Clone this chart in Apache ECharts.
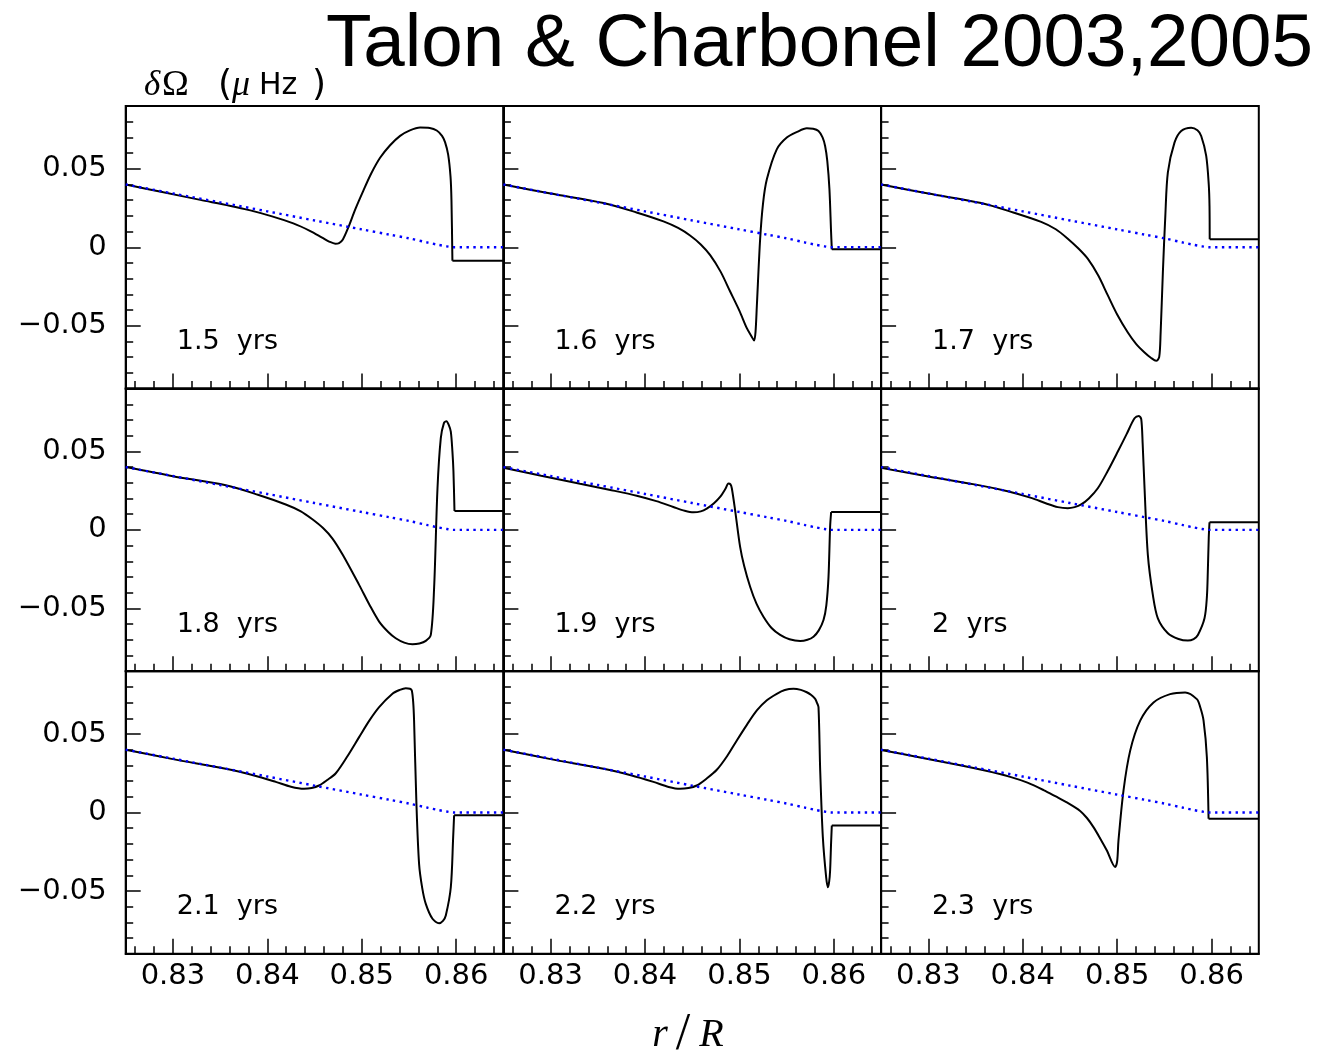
<!DOCTYPE html>
<html>
<head>
<meta charset="utf-8">
<script src="https://cdn.jsdelivr.net/npm/echarts@6/dist/echarts.min.js"></script>
<style>html,body{margin:0;padding:0;background:#fff}#c{width:1331px;height:1056px}</style>
</head>
<body>
<div id="c"></div>
<script>
// ---------- data ----------
const titleText = 'Talon & Charbonel 2003,2005';
const panelLabels = ['1.5  yrs','1.6  yrs','1.7  yrs','1.8  yrs','1.9  yrs','2  yrs','2.1  yrs','2.2  yrs','2.3  yrs'];
const xMajorTicks = [0.83, 0.84, 0.85, 0.86];
const yMajorTicks = [-0.05, 0, 0.05];
const xRange = [0.825, 0.865];
const yRange = [-0.09, 0.09];

const yrs15 = [[0.825,0.0400],[0.829,0.0350],[0.8329,0.0302],[0.8360,0.0265],[0.8382,0.0235],[0.8405,0.0197],[0.84275,0.0152],[0.8445,0.0105],[0.8458,0.0062],[0.8466,0.0035],[0.8472,0.0023],[0.8476,0.0027],[0.8480,0.0050],[0.84858,0.0127],[0.8493,0.0240],[0.85017,0.0361],[0.8510,0.0470],[0.85194,0.0570],[0.8530,0.0650],[0.85406,0.0710],[0.8551,0.0745],[0.85618,0.0763],[0.8572,0.0760],[0.85794,0.0744],[0.8585,0.0710],[0.85882,0.0670],[0.85915,0.0590],[0.8594,0.0450],[0.8595,0.0300],[0.8596,-0.0085],[0.865,-0.0085]];
const yrs16 = [[0.825,0.0400],[0.830,0.0342],[0.8356,0.0282],[0.8391,0.0222],[0.84195,0.0165],[0.8435,0.0123],[0.84477,0.0075],[0.8459,0.0018],[0.8469,-0.0050],[0.8480,-0.0155],[0.849,-0.0280],[0.8500,-0.0405],[0.85078,-0.0515],[0.8513,-0.0570],[0.85155,-0.0594],[0.8517,-0.0540],[0.85184,-0.0374],[0.85219,0.0053],[0.8525,0.0282],[0.8529,0.0433],[0.85395,0.0624],[0.85501,0.0699],[0.8561,0.0735],[0.85713,0.0758],[0.8578,0.0755],[0.85837,0.0741],[0.8588,0.0700],[0.85907,0.0645],[0.8593,0.0550],[0.85953,0.0369],[0.8597,0.0100],[0.85978,-0.0013],[0.865,-0.0013]];
const yrs17 = [[0.825,0.0400],[0.830,0.0342],[0.8356,0.0282],[0.8390,0.0222],[0.84195,0.0162],[0.8435,0.0115],[0.84477,0.0055],[0.8459,-0.0008],[0.8469,-0.0074],[0.8480,-0.0180],[0.849,-0.0305],[0.8500,-0.0428],[0.85113,-0.0543],[0.8520,-0.0615],[0.8529,-0.0670],[0.8536,-0.0705],[0.85413,-0.0723],[0.85445,-0.0700],[0.8546,-0.0550],[0.85484,-0.0160],[0.8551,0.0200],[0.85537,0.0477],[0.85607,0.0667],[0.85678,0.0741],[0.85784,0.0762],[0.8585,0.0745],[0.8589,0.0709],[0.85943,0.0582],[0.8597,0.0400],[0.85978,0.0263],[0.8598,0.0052],[0.865,0.0052]];
const yrs18 = [[0.825,0.0400],[0.830,0.0342],[0.8356,0.0284],[0.8390,0.0224],[0.84195,0.0162],[0.8435,0.0120],[0.84477,0.0068],[0.8459,0.0012],[0.8469,-0.0055],[0.8480,-0.0160],[0.84972,-0.0350],[0.8508,-0.0475],[0.85184,-0.0584],[0.8528,-0.0650],[0.8536,-0.0690],[0.8545,-0.0718],[0.85537,-0.0728],[0.8561,-0.0723],[0.85678,-0.0707],[0.85731,-0.0669],[0.85766,-0.0372],[0.85802,0.0265],[0.85837,0.0584],[0.8587,0.0680],[0.85897,0.0692],[0.8592,0.0670],[0.85943,0.0626],[0.8596,0.0500],[0.85971,0.0372],[0.85982,0.0120],[0.865,0.0120]];
const yrs19 = [[0.825,0.0396],[0.829,0.0345],[0.83312,0.0294],[0.8362,0.0256],[0.83912,0.0218],[0.8412,0.0183],[0.843,0.0146],[0.8442,0.0122],[0.84513,0.0112],[0.8459,0.0118],[0.84654,0.0136],[0.8473,0.0170],[0.84795,0.0210],[0.8485,0.0260],[0.84883,0.0295],[0.84905,0.0290],[0.84919,0.0265],[0.84954,0.0125],[0.85007,-0.0108],[0.8505,-0.0230],[0.85113,-0.0362],[0.8518,-0.0470],[0.85254,-0.0553],[0.8534,-0.0625],[0.85431,-0.0669],[0.8553,-0.0697],[0.85643,-0.0708],[0.8572,-0.0700],[0.85784,-0.0680],[0.8584,-0.0640],[0.8589,-0.0574],[0.8592,-0.0480],[0.85943,-0.0299],[0.8596,0.0019],[0.85971,0.0114],[0.865,0.0114]];
const yrs20 = [[0.825,0.0395],[0.830,0.0340],[0.8356,0.0282],[0.8385,0.0245],[0.84089,0.0204],[0.8425,0.0168],[0.84371,0.0145],[0.84477,0.0138],[0.8455,0.0145],[0.84619,0.0162],[0.8470,0.0200],[0.84795,0.0265],[0.8490,0.0375],[0.85007,0.0499],[0.8510,0.0610],[0.85184,0.0711],[0.8523,0.0726],[0.85255,0.0705],[0.8527,0.0550],[0.8529,0.0265],[0.85325,-0.0159],[0.85378,-0.0414],[0.85431,-0.0563],[0.85537,-0.0658],[0.8565,-0.0695],[0.85749,-0.0705],[0.8581,-0.0695],[0.85855,-0.0669],[0.85925,-0.0563],[0.8595,-0.0430],[0.8596,-0.0268],[0.8597,-0.0050],[0.85978,0.0049],[0.865,0.0049]];
const yrs21 = [[0.825,0.0400],[0.830,0.0340],[0.8356,0.0278],[0.8385,0.0237],[0.84089,0.0195],[0.8425,0.0164],[0.84389,0.0151],[0.8447,0.0156],[0.84548,0.0172],[0.8463,0.0205],[0.84725,0.0250],[0.8485,0.0360],[0.84972,0.0480],[0.8508,0.0585],[0.85184,0.0671],[0.85325,0.0756],[0.8540,0.0780],[0.85466,0.0792],[0.8551,0.0788],[0.8553,0.0777],[0.85545,0.0700],[0.85554,0.0586],[0.85579,0.0055],[0.85607,-0.0327],[0.8564,-0.0480],[0.85678,-0.0582],[0.85749,-0.0677],[0.85819,-0.0705],[0.8586,-0.0690],[0.8589,-0.0656],[0.85943,-0.0476],[0.85968,-0.0157],[0.85978,-0.0017],[0.865,-0.0017]];
const yrs22 = [[0.825,0.0400],[0.830,0.0340],[0.8356,0.0278],[0.8385,0.0237],[0.84089,0.0195],[0.8425,0.0163],[0.84371,0.0151],[0.8446,0.0156],[0.84548,0.0172],[0.8465,0.0215],[0.8476,0.0272],[0.8487,0.0360],[0.84972,0.0459],[0.8508,0.0560],[0.85184,0.0650],[0.8529,0.0715],[0.85395,0.0756],[0.8548,0.0780],[0.85572,0.0788],[0.8565,0.0781],[0.85713,0.0766],[0.8576,0.0748],[0.85802,0.0724],[0.8582,0.0700],[0.85837,0.0671],[0.85855,0.0268],[0.85883,-0.0157],[0.85918,-0.0412],[0.85936,-0.0476],[0.8595,-0.0440],[0.8596,-0.0369],[0.8597,-0.0200],[0.85978,-0.0083],[0.865,-0.0083]];
const yrs23 = [[0.825,0.0398],[0.829,0.0352],[0.83337,0.0301],[0.8360,0.0267],[0.83867,0.0227],[0.8405,0.0190],[0.8422,0.0143],[0.8435,0.0102],[0.84467,0.0064],[0.84608,0.0010],[0.8468,-0.0035],[0.84749,-0.0093],[0.8482,-0.0165],[0.84891,-0.0242],[0.84979,-0.0347],[0.8500,-0.0310],[0.85014,-0.0178],[0.85067,0.0140],[0.85138,0.0394],[0.85244,0.0585],[0.85385,0.0701],[0.85561,0.0754],[0.8572,0.0765],[0.85844,0.0722],[0.8588,0.0670],[0.85915,0.0585],[0.8595,0.0352],[0.85968,-0.0040],[0.865,-0.0040]];
const blueDotted = [[0.825,0.040],[0.830,0.0343],[0.835,0.0286],[0.840,0.0229],[0.845,0.0171],[0.850,0.0114],[0.853,0.0080],[0.855,0.0057],[0.857,0.0030],[0.858,0.0017],[0.859,0.0006],[0.8597,0],[0.865,0]];

const panels = [yrs15, yrs16, yrs17, yrs18, yrs19, yrs20, yrs21, yrs22, yrs23];

// ---------- layout ----------
const L0 = 125.7, T0 = 106, PW = 377.7, PH = 282.6;
const xMinor = []; for (let k = 826; k <= 864; k += 2) xMinor.push(k / 1000);
const yMinor = []; for (let k = -8; k <= 8; k++) yMinor.push(k / 100);
const tickFont = '"DejaVu Sans"';
function fmtY(v){ if (Math.abs(v) < 1e-9) return '0'; return (v < 0 ? '\u2212' : '') + Math.abs(v).toFixed(2); }

const grids = [], xAxes = [], yAxes = [], series = [], graphics = [];
panels.forEach((pts, i) => {
  const col = i % 3, row = Math.floor(i / 3);
  const left = L0 + col * PW, top = T0 + row * PH;
  grids.push({left: left, top: top, width: PW, height: PH, show: true, borderColor: '#000', borderWidth: 2, containLabel: false});
  const base = {type: 'value', gridIndex: i, min: xRange[0], max: xRange[1], position: 'bottom', splitLine: {show: false}};
  xAxes.push(Object.assign({}, base, {
    axisLine: {show: true, onZero: false, lineStyle: {color: '#000', width: 2}},
    axisTick: {show: true, inside: true, length: 15, customValues: xMajorTicks, lineStyle: {color: '#000', width: 1.5}},
    axisLabel: {show: row === 2, customValues: xMajorTicks, formatter: v => v.toFixed(2), fontFamily: tickFont, fontSize: 29, color: '#000', margin: 8}
  }));
  xAxes.push(Object.assign({}, base, {
    axisLine: {show: false, onZero: false},
    axisTick: {show: true, inside: true, length: 7.5, customValues: xMinor, lineStyle: {color: '#000', width: 1.5}},
    axisLabel: {show: false}
  }));
  const ybase = {type: 'value', gridIndex: i, min: yRange[0], max: yRange[1], position: 'left', splitLine: {show: false}};
  yAxes.push(Object.assign({}, ybase, {
    axisLine: {show: true, onZero: false, lineStyle: {color: '#000', width: 2}},
    axisTick: {show: true, inside: true, length: 15, customValues: yMajorTicks, lineStyle: {color: '#000', width: 1.5}},
    axisLabel: {show: col === 0, customValues: yMajorTicks, formatter: fmtY, fontFamily: tickFont, fontSize: 29, color: '#000', margin: 19}
  }));
  yAxes.push(Object.assign({}, ybase, {
    axisLine: {show: false, onZero: false},
    axisTick: {show: true, inside: true, length: 7.5, customValues: yMinor, lineStyle: {color: '#000', width: 1.5}},
    axisLabel: {show: false}
  }));
  const n = pts.length;
  series.push({type: 'line', xAxisIndex: 2 * i, yAxisIndex: 2 * i, data: pts.slice(0, n - 1), showSymbol: false,
    smooth: 0.3, lineStyle: {color: '#000', width: 2}, z: 3, silent: true, animation: false});
  series.push({type: 'line', xAxisIndex: 2 * i, yAxisIndex: 2 * i, data: pts.slice(n - 2), showSymbol: false,
    lineStyle: {color: '#000', width: 2}, z: 3, silent: true, animation: false});
  series.push({type: 'line', xAxisIndex: 2 * i, yAxisIndex: 2 * i, data: blueDotted, showSymbol: false, smooth: 0.3,
    lineStyle: {color: '#0000ff', width: 2.4, type: [2.4, 4.4]}, z: 4, silent: true, animation: false});
  graphics.push({type: 'text', x: left + 51, y: top + 236, z: 10,
    style: {text: panelLabels[i], fontFamily: tickFont, fontSize: 27, fill: '#000', align: 'left', verticalAlign: 'middle'}});
});

graphics.push({type: 'text', x: 326, y: 45, z: 10,
  style: {text: titleText, fontFamily: '"Liberation Sans"', fontSize: 74.6, fill: '#000', align: 'left', verticalAlign: 'middle'}});
graphics.push({type: 'text', x: 144, y: 86, z: 10,
  style: {text: '{di|δ}{o|Ω}{s|(}{mi|μ}{h|Hz}{s|)}', align: 'left', verticalAlign: 'middle',
    rich: {
      di: {fontFamily: '"Liberation Serif"', fontStyle: 'italic', fontSize: 35, fill: '#000', width: 18},
      o: {fontFamily: '"Liberation Serif"', fontSize: 36, fill: '#000', width: 56},
      mi: {fontFamily: '"Liberation Serif"', fontStyle: 'italic', fontSize: 36, fill: '#000', width: 27},
      s: {fontFamily: tickFont, fontSize: 36, fill: '#000', width: 14},
      h: {fontFamily: tickFont, fontSize: 30, fill: '#000', width: 53}
    }}});
graphics.push({type: 'text', x: 688, y: 1035, z: 10,
  style: {text: '{r|r}{sl|/}{r|R}', align: 'center', verticalAlign: 'middle',
    rich: {
      r: {fontFamily: '"Liberation Serif"', fontStyle: 'italic', fontSize: 40, fill: '#000'},
      sl: {fontFamily: '"Liberation Serif"', fontSize: 52, fill: '#000', padding: [0, 9, 0, 8]}
    }}});

const chart = echarts.init(document.getElementById('c'), null, {renderer: 'canvas'});
chart.setOption({
  animation: false,
  backgroundColor: '#fff',
  grid: grids, xAxis: xAxes, yAxis: yAxes, series: series, graphic: graphics
});
</script>
</body>
</html>
